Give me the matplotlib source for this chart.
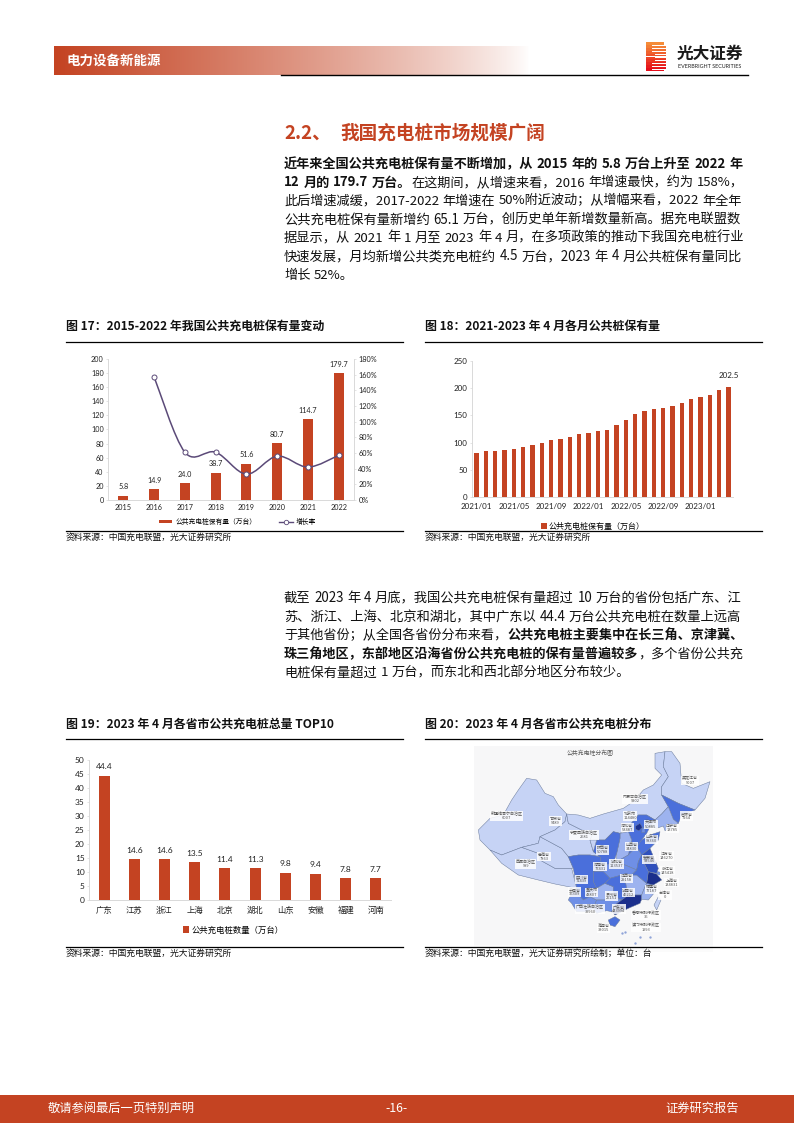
import numpy as np
import matplotlib
matplotlib.use('Agg')
import matplotlib.pyplot as plt
from matplotlib.patches import Polygon, Rectangle, PathPatch
from matplotlib.path import Path
from matplotlib.lines import Line2D

FONT = ['Noto Sans CJK SC', 'DejaVu Sans']
NUM = ['Lato', 'Noto Sans CJK SC', 'DejaVu Sans']
plt.rcParams['font.family'] = FONT
RED = '#C44322'
W, H = 794, 1123

# ---------- data ----------
years = ['2015', '2016', '2017', '2018', '2019', '2020', '2021', '2022']
pile_stock = [5.8, 14.9, 24.0, 38.7, 51.6, 80.7, 114.7, 179.7]
growth_rate = [np.nan, 157, 61, 61, 33, 56, 42, 57]

months = ['2021/01', '', '', '', '2021/05', '', '', '', '2021/09', '', '', '', '2022/01', '', '', '',
          '2022/05', '', '', '', '2022/09', '', '', '', '2023/01', '', '', '']
monthly_stock = [81.6, 84, 85, 87, 89, 92, 95, 99, 105, 107, 110, 115, 118, 121, 123, 133,
                 142, 153, 158, 162, 164, 168, 173, 180, 184, 187, 196, 202.5]

provinces = ['广东', '江苏', '浙江', '上海', '北京', '湖北', '山东', '安徽', '福建', '河南']
province_stock = [44.4, 14.6, 14.6, 13.5, 11.4, 11.3, 9.8, 9.4, 7.8, 7.7]

map_labels = [('黑龙江省', '9007'), ('内蒙古自治区', '9302'), ('吉林省', '7264'), ('北京市', '114480'),
              ('天津市', '50885'), ('河北省', '53487'), ('辽宁省', '13785'), ('山东省', '98360'),
              ('山西省', '34830'), ('陕西省', '50788'), ('宁夏回族自治区', '2681'), ('甘肃省', '9489'),
              ('新疆维吾尔自治区', '6007'), ('青海省', '7863'), ('西藏自治区', '989'), ('四川省', '71439'),
              ('河南省', '77431'), ('湖北省', '113537'), ('安徽省', '93546'), ('江苏省', '146270'),
              ('浙江省', '145418'), ('上海省', '134831'), ('福建省', '77187'), ('台湾省', '0'),
              ('江西省', '29158'), ('湖南省', '46212'), ('重庆市', '43807'), ('贵州省', '25151'),
              ('云南省', '36309'), ('广西壮族自治区', '39960'), ('广东省', '443994'),
              ('香港特别行政区', '36'), ('澳门特别行政区', '1993'), ('海南省', '33015')]

# ---------- layout ----------
fig = plt.figure(figsize=(W / 100, H / 100), dpi=100, facecolor='white')
page = fig.add_axes([0, 0, 1, 1], zorder=0)
page.set_xlim(0, W)
page.set_ylim(H, 0)
page.axis('off')


def axes_px(l, t, r, b):
    a = fig.add_axes([l / W, 1 - b / H, (r - l) / W, (b - t) / H], zorder=2)
    a.patch.set_alpha(0)
    return a


def style(a, size):
    for s in ('top', 'right'):
        a.spines[s].set_visible(False)
    for s in ('left', 'bottom'):
        a.spines[s].set_color('#d9d9d9')
        a.spines[s].set_linewidth(0.7)
    a.tick_params(length=1.6, width=0.5, color='#d9d9d9', labelsize=size, pad=1.5, labelcolor='#222222')
    for t in a.get_xticklabels() + a.get_yticklabels():
        t.set_family(NUM)


# ---------- header / footer ----------
grad = np.ones((2, 256, 3))
c0 = np.array(matplotlib.colors.to_rgb(RED))
for i, t in enumerate(np.linspace(0, 1, 256)):
    grad[:, i] = c0 * (1 - t) ** 0.8 + (1 - (1 - t) ** 0.8)
page.imshow(grad, extent=(54, 530, 75, 46), aspect='auto', zorder=1)
page.set_xlim(0, W)
page.set_ylim(H, 0)
page.text(67, 60.5, '电力设备新能源', color='white', fontsize=9.7, fontweight='bold', va='center')
page.plot([281, 748], [75.3, 75.3], color='black', lw=1.0, zorder=3)

# logo
logo_colors = np.linspace(0, 1, 10)
for i, t in enumerate(logo_colors):
    c = np.array([0.96, 0.55, 0.22]) * (1 - t) + np.array([0.90, 0.05, 0.10]) * t
    page.add_patch(Rectangle((646, 42 + i * 2.9), 20, 2.9, fc=c, ec='none', zorder=2))
for i in range(9):
    page.add_patch(Rectangle((652 + (i in (3, 4, 5)) * 3, 44.5 + i * 3.0), 14, 1.0, fc='white', ec='none', zorder=3))
page.add_patch(Rectangle((664, 42), 2, 2.5, fc='white', ec='none', zorder=3))
page.add_patch(Rectangle((664, 68.5), 2, 2.5, fc='white', ec='none', zorder=3))
page.text(709.5, 53.5, '光大证券', fontsize=12, fontweight='bold', ha='center', va='center', color='#1a1a1a')
page.text(709.5, 66, 'EVERBRIGHT SECURITIES', fontsize=3.9, ha='center', va='center', color='#222222',
          family=NUM)

page.add_patch(Rectangle((0, 1095), W, 27.5, fc=RED, ec='none'))
page.text(48, 1108.5, '敬请参阅最后一页特别声明', color='white', fontsize=8.85, va='center')
page.text(397, 1108.5, '-16-', color='white', fontsize=8.85, va='center', ha='center')
page.text(739, 1108.5, '证券研究报告', color='white', fontsize=8.85, va='center', ha='right')

# ---------- body text ----------
page.text(284, 133, '2.2、', color=RED, fontsize=13.4, fontweight='bold', va='center')
page.text(340, 133, '我国充电桩市场规模广阔', color=RED, fontsize=13.4, fontweight='bold', va='center')

renderer = fig.canvas.get_renderer()
BODY = 9.5
GAP = 3.6


def put_line(y, runs, x0=284.0, x1=745.0, justify=True):
    pieces = []
    for text, bold in runs:
        for j, p in enumerate(text.split(' ')):
            pieces.append((p, bold, j > 0))
    objs = [page.text(0, y, p, fontsize=BODY, fontweight='bold' if bold else 'normal',
                      va='center', color='#111111') for p, bold, sp in pieces]
    widths = [o.get_window_extent(renderer).width for o in objs]
    nsp = sum(1 for _, _, sp in pieces if sp)
    if justify:
        scale = (x1 - x0 - nsp * GAP) / sum(widths)
        for o in objs:
            o.set_fontsize(BODY * scale)
        widths = [o.get_window_extent(renderer).width for o in objs]
    x = x0
    for o, w, (p, b, sp) in zip(objs, widths, pieces):
        if sp:
            x += GAP
        o.set_x(x)
        x += w


para1 = [
    [('近年来全国公共充电桩保有量不断增加，从 2015 年的 5.8 万台上升至 2022 年', True)],
    [('12 月的 179.7 万台。', True), ('在这期间，从增速来看，2016 年增速最快，约为 158%，', False)],
    [('此后增速减缓，2017-2022 年增速在 50%附近波动；从增幅来看，2022 年全年', False)],
    [('公共充电桩保有量新增约 65.1 万台，创历史单年新增数量新高。据充电联盟数', False)],
    [('据显示，从 2021 年 1 月至 2023 年 4 月，在多项政策的推动下我国充电桩行业', False)],
    [('快速发展，月均新增公共类充电桩约 4.5 万台，2023 年 4 月公共桩保有量同比', False)],
]
for y, r in zip([164, 182.5, 201, 219.5, 238, 256.5], para1):
    put_line(y, r)
put_line(275, [('增长 52%。', False)], justify=False)

para2 = [
    [('截至 2023 年 4 月底，我国公共充电桩保有量超过 10 万台的省份包括广东、江', False)],
    [('苏、浙江、上海、北京和湖北，其中广东以 44.4 万台公共充电桩在数量上远高', False)],
    [('于其他省份；从全国各省份分布来看，', False), ('公共充电桩主要集中在长三角、京津冀、', True)],
    [('珠三角地区，东部地区沿海省份公共充电桩的保有量普遍较多', True), ('，多个省份公共充', False)],
]
for y, r in zip([598, 617, 636, 654.5], para2):
    put_line(y, r)
put_line(673, [('电桩保有量超过 1 万台，而东北和西北部分地区分布较少。', False)], justify=False)


def frame(x0, x1, title, y_title, y_rule, y_src_rule, y_src, source):
    page.text(x0, y_title, title, fontsize=8.6, fontweight='bold', va='center', color='#111111')
    page.plot([x0, x1], [y_rule, y_rule], color='black', lw=0.9)
    page.plot([x0, x1], [y_src_rule, y_src_rule], color='black', lw=0.9)
    page.text(x0, y_src, source, fontsize=6.35, va='center', color='#111111')


frame(66, 403, '图 17：2015-2022 年我国公共充电桩保有量变动', 326, 341.5, 531, 537.5, '资料来源：中国充电联盟，光大证券研究所')
frame(425, 762, '图 18：2021-2023 年 4 月各月公共桩保有量', 326, 341.5, 531, 537.5, '资料来源：中国充电联盟，光大证券研究所')
frame(66, 403, '图 19：2023 年 4 月各省市公共充电桩总量 TOP10', 724, 738.5, 946.5, 953, '资料来源：中国充电联盟，光大证券研究所')
frame(425, 762, '图 20：2023 年 4 月各省市公共充电桩分布', 724, 738.5, 946.5, 953, '资料来源：中国充电联盟，光大证券研究所绘制；单位：台')

# ---------- chart 17 ----------
ax = axes_px(108, 359, 354, 500)
x = np.arange(len(years))
bars = ax.bar(x, pile_stock, width=0.33, color=RED, label='公共充电桩保有量（万台）')
ax.set_xlim(-0.5, 7.5)
ax.set_ylim(0, 200)
ax.set_yticks(range(0, 201, 20))
ax.set_xticks(x, years)
style(ax, 5.2)
for xi, v in zip(x, pile_stock):
    ax.annotate(f'{v:.1f}', (xi, v), xytext=(0, 4), textcoords='offset points', ha='center', va='bottom',
                fontsize=5.2, family=NUM, color='#222222')
ax2 = ax.twinx()
ax2.patch.set_alpha(0)
ax2.set_ylim(0, 180)
ax2.set_yticks(range(0, 181, 20), [f'{v}%' for v in range(0, 181, 20)])
for s in ('top', 'left', 'bottom'):
    ax2.spines[s].set_visible(False)
ax2.spines['right'].set_color('#d9d9d9')
ax2.spines['right'].set_linewidth(0.7)
ax2.tick_params(length=1.6, width=0.5, color='#d9d9d9', labelsize=5.2, pad=1.5, labelcolor='#222222')
for t in ax2.get_yticklabels():
    t.set_family(NUM)
# smoothed growth line (same curve treatment as the spreadsheet's "smooth line")
gx = x[1:].astype(float)
gy = np.array(growth_rate[1:], dtype=float)
verts = [(gx[0], gy[0])]
codes = [Path.MOVETO]
for i in range(len(gx) - 1):
    p0 = i - 1 if i > 0 else i
    p3 = i + 2 if i + 2 < len(gx) else i + 1
    c1 = (gx[i] + (gx[i + 1] - gx[p0]) / 6, gy[i] + (gy[i + 1] - gy[p0]) / 6)
    c2 = (gx[i + 1] - (gx[p3] - gx[i]) / 6, gy[i + 1] - (gy[p3] - gy[i]) / 6)
    verts += [c1, c2, (gx[i + 1], gy[i + 1])]
    codes += [Path.CURVE4] * 3
LINE = '#5b4a78'
ax2.add_patch(PathPatch(Path(verts, codes), fc='none', ec=LINE, lw=1.1))
ax2.plot(gx, gy, ls='none', marker='o', ms=3.6, mfc='white', mec=LINE, mew=0.7)
h = [Rectangle((0, 0), 1, 1, fc=RED, ec='none'),
     Line2D([0], [0], color=LINE, lw=1.0, marker='o', ms=3.2, mfc='white', mec=LINE, mew=0.6)]
fig.legend(h, ['公共充电桩保有量（万台）', '增长率'], loc='center', bbox_to_anchor=(237.5 / W, 1 - 522 / H), ncol=2,
           frameon=False, fontsize=4.9, handlelength=1.95, handleheight=0.45, columnspacing=3.4,
           handletextpad=0.45, borderpad=0)

# ---------- chart 18 ----------
ax = axes_px(472, 361, 733, 497)
x = np.arange(len(monthly_stock))
ax.bar(x, monthly_stock, width=0.47, color=RED)
ax.set_xlim(-0.5, 27.5)
ax.set_ylim(0, 250)
ax.set_yticks(range(0, 251, 50))
idx = [i for i, m in enumerate(months) if m]
ax.set_xticks(idx, [months[i] for i in idx])
style(ax, 5.8)
ax.tick_params(axis='x', length=0, pad=4)
ax.annotate(f'{monthly_stock[-1]:.1f}', (x[-1], monthly_stock[-1]), xytext=(0, 6), textcoords='offset points',
            ha='center', va='bottom', fontsize=5.8, family=NUM, color='#222222')
fig.legend([Rectangle((0, 0), 1, 1, fc=RED, ec='none')], ['公共充电桩保有量（万台）'], loc='center',
           bbox_to_anchor=(593 / W, 1 - 526 / H), frameon=False, fontsize=5.8, handlelength=0.8,
           handleheight=0.8, handletextpad=0.2, borderpad=0)

# ---------- chart 19 ----------
ax = axes_px(89, 760, 391, 900)
x = np.arange(len(provinces))
ax.bar(x, province_stock, width=0.36, color=RED)
ax.set_xlim(-0.5, 9.5)
ax.set_ylim(0, 50)
ax.set_yticks(range(0, 51, 5))
ax.set_xticks(x, provinces)
style(ax, 6.0)
ax.tick_params(axis='x', length=0, pad=4)
for xi, v in zip(x, province_stock):
    ax.annotate(f'{v:.1f}', (xi, v), xytext=(0, 4), textcoords='offset points', ha='center', va='bottom',
                fontsize=6, family=NUM, color='#222222')
fig.legend([Rectangle((0, 0), 1, 1, fc=RED, ec='none')], ['公共充电桩数量（万台）'], loc='center',
           bbox_to_anchor=(233 / W, 1 - 930 / H), frameon=False, fontsize=6.0, handlelength=0.8,
           handleheight=0.8, handletextpad=0.2, borderpad=0)

# ---------- chart 20: schematic map ----------
page.add_patch(Rectangle((474, 746), 239, 199, fc='#f7f7f8', ec='none', zorder=1))
page.add_patch(Rectangle((474, 945), 239, 7, fc='#fbfbfb', ec='none', zorder=1))
TIER = {0: '#c6d3f5', 1: '#9db3ef', 2: '#6f8fe6', 3: '#4a6fdb', 4: '#2f50bd', 5: '#1b2f8c'}
province_shapes = {
    '新疆': (0, [(40,270),(75,235),(115,225),(140,180),(160,150),(185,115),(215,120),(240,160),(265,170),(280,195),(305,222),(300,245),(270,270),(225,290),(220,310),(170,322),(110,345),(75,330),(45,300)]),
    '西藏': (0, [(75,330),(110,345),(170,322),(220,340),(225,360),(270,385),(320,385),(335,445),(270,432),(220,420),(160,405),(110,370)]),
    '青海': (0, [(225,290),(290,325),(310,350),(325,385),(270,385),(225,360),(220,340),(170,322),(220,310)]),
    '甘肃': (0, [(270,270),(300,245),(305,222),(310,250),(350,270),(385,278),(375,300),(385,335),(405,350),(375,345),(340,345),(310,350),(290,325),(225,290)]),
    '内蒙古': (0, [(305,222),(340,225),(375,235),(415,222),(475,205),(505,185),(535,150),(565,135),(590,105),(570,85),(570,40),(600,35),(595,80),(610,110),(590,140),(590,165),(610,200),(590,222),(570,240),(545,225),(520,225),(495,255),(465,280),(445,275),(420,300),(395,300),(375,300),(385,278),(350,270),(310,250)]),
    '黑龙江': (0, [(600,35),(620,35),(645,70),(650,130),(685,145),(735,125),(720,175),(690,210),(640,190),(590,165),(590,140),(610,110),(595,80)]),
    '吉林': (3, [(590,165),(640,190),(690,210),(650,225),(640,250),(625,238),(610,200)]),
    '辽宁': (1, [(590,222),(610,200),(625,238),(640,250),(600,272),(595,258),(575,265),(555,260),(570,240)]),
    '河北': (3, [(495,255),(520,225),(545,225),(570,240),(555,260),(545,280),(530,300),(515,320),(490,345),(500,300),(490,275)]),
    '北京': (5, [(512,258),(525,250),(532,262),(522,272),(512,268)]),
    '天津': (2, [(532,262),(540,265),(540,278),(530,278)]),
    '山西': (1, [(465,280),(490,275),(500,300),(490,345),(455,365),(455,340),(465,295)]),
    '山东': (3, [(530,300),(555,285),(585,275),(580,300),(555,325),(530,345),(515,320)]),
    '陕西': (3, [(420,300),(445,275),(465,280),(465,295),(455,340),(445,370),(410,375),(405,350),(385,335),(395,300)]),
    '宁夏': (0, [(375,300),(395,300),(385,335)]),
    '河南': (2, [(455,365),(490,345),(515,320),(530,345),(520,365),(515,390),(480,375),(445,370)]),
    '湖北': (2, [(410,375),(445,370),(480,375),(515,390),(500,405),(470,405),(435,415),(415,395),(385,395)]),
    '重庆': (3, [(385,395),(415,395),(435,415),(420,430),(395,445),(385,425)]),
    '四川': (3, [(310,350),(340,345),(375,345),(405,350),(410,375),(385,395),(385,425),(395,445),(375,470),(355,480),(345,470),(335,445),(325,385)]),
    '云南': (2, [(335,445),(345,470),(355,480),(375,470),(395,480),(385,505),(365,515),(335,515),(320,490),(310,480),(322,455)]),
    '贵州': (1, [(395,445),(420,430),(445,440),(445,470),(420,480),(395,480),(375,470)]),
    '湖南': (3, [(435,415),(470,405),(480,420),(490,465),(470,480),(445,470),(445,440),(420,430)]),
    '江西': (1, [(470,405),(500,405),(515,405),(545,430),(540,440),(530,465),(490,465),(480,420)]),
    '广西': (2, [(385,505),(395,480),(420,480),(445,470),(470,480),(450,495),(440,515),(425,512),(395,520)]),
    '广东': (5, [(470,480),(490,465),(530,465),(530,478),(525,490),(490,505),(450,525),(440,515),(450,495)]),
    '福建': (1, [(530,465),(540,440),(545,430),(565,435),(575,450),(550,480),(530,478)]),
    '浙江': (5, [(550,395),(575,402),(590,420),(565,435),(545,430)]),
    '江苏': (4, [(530,345),(555,325),(580,385),(575,400),(550,395),(540,375)]),
    '上海': (2, [(578,395),(590,398),(585,405),(575,402)]),
    '安徽': (3, [(530,345),(540,375),(550,395),(545,430),(515,405),(500,405),(515,390),(520,365)]),
    '海南': (3, [(430,540),(450,530),(465,540),(450,560),(435,555)]),
    '台湾': (0, [(580,470),(588,480),(575,510),(567,495)]),
}


def mp(p):
    return (465 + p[0] / 3, 740 + p[1] / 3)


for name, (tier, pts) in province_shapes.items():
    page.add_patch(Polygon([mp(p) for p in pts], closed=True, fc=TIER[tier], ec='#6a7b9c', lw=0.35, zorder=2))
tp = mp((376, 40))
page.text(tp[0], tp[1], '公共充电桩分布图', fontsize=4.2, ha='center', va='center', color='#555555', zorder=3)
label_spots = [(675,122),(510,176),(664,228),(495,228),(558,254),(487,263),(622,265),(560,298),
               (500,320),(412,330),(357,285),(272,243),(125,228),(237,350),(182,372),(350,418),
               (405,380),(455,372),(552,358),(605,348),(608,392),(620,428),(560,448),(600,465),
               (485,415),(490,458),(380,457),(440,468),(328,456),(375,508),(462,507),(543,525),(543,562),(415,565)]
for (nm, val), (lx, ly) in zip(map_labels, label_spots):
    q = mp((lx, ly))
    page.text(q[0], q[1], f'{nm}\n{val}', fontsize=2.9, ha='center', va='center', color='#555555', linespacing=1.05,
              zorder=4, bbox=dict(fc='white', ec='none', alpha=0.85, pad=0.4))
for p in [(470,580),(480,575),(525,592),(555,590),(510,610)]:
    q = mp(p)
    page.plot(*q, marker='o', ms=0.7, color='#8fa3d8', zorder=3)

page.set_xlim(0, W)
page.set_ylim(H, 0)
fig.savefig('out.png', dpi=100)
